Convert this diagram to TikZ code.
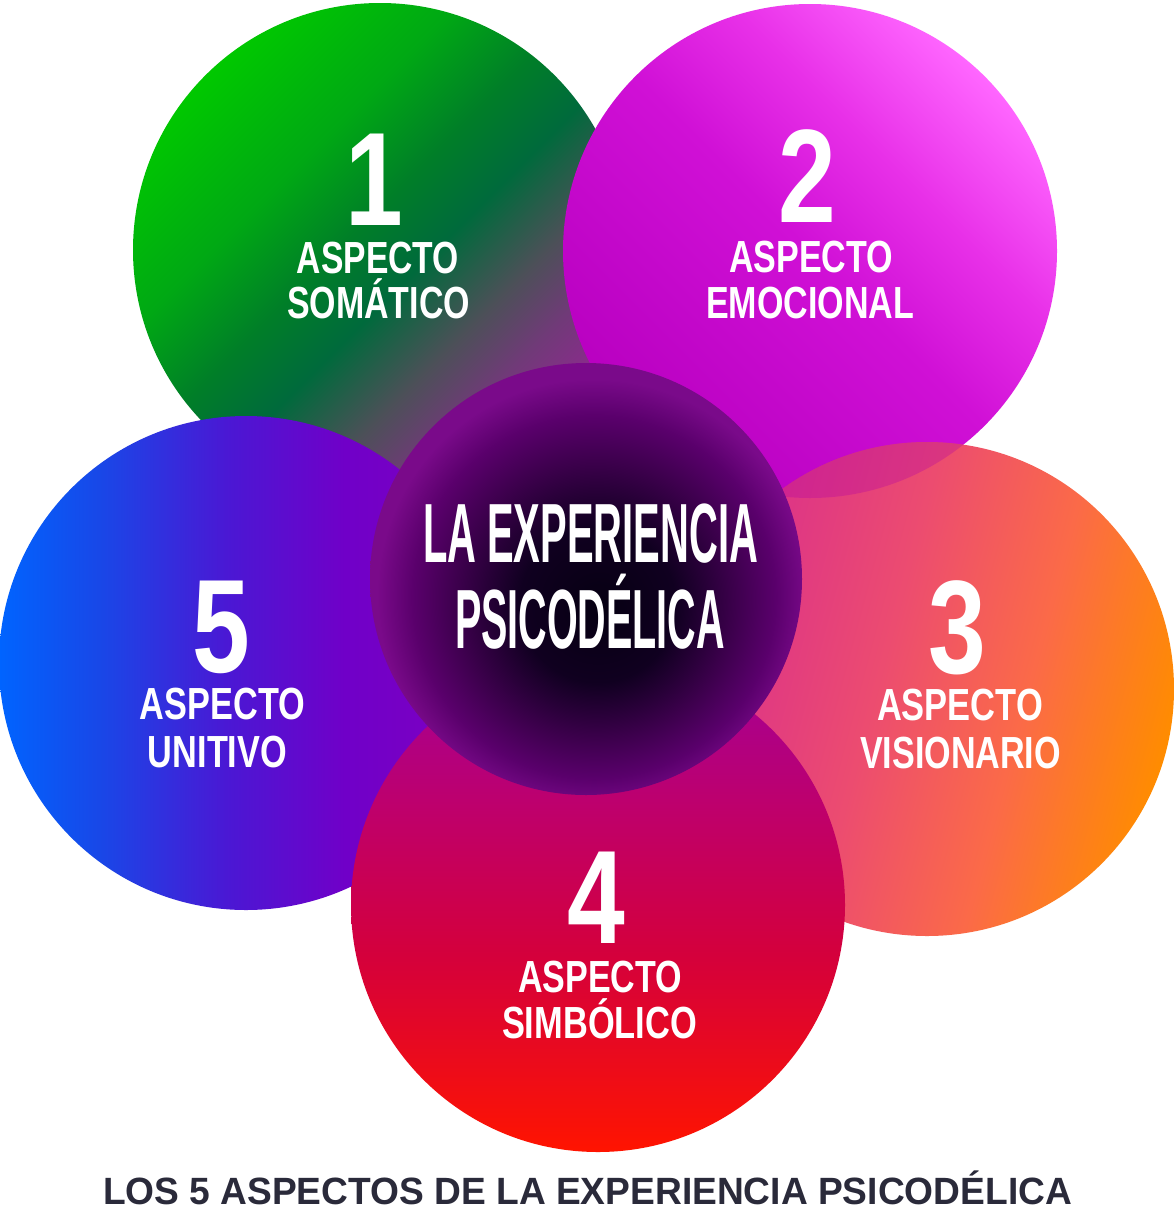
\documentclass[tikz,border=0pt]{standalone}
\usepackage{fontspec}
\setmainfont{Liberation Sans}
\usepackage{graphicx}
\definecolor{g0}{HTML}{00C800}
\definecolor{g1}{HTML}{00A814}
\definecolor{g2}{HTML}{007E28}
\definecolor{g3}{HTML}{006A3C}
\definecolor{g4}{HTML}{4C5058}
\definecolor{g5}{HTML}{703A78}
\definecolor{g6}{HTML}{902890}
\definecolor{m0}{HTML}{B800C0}
\definecolor{m1}{HTML}{D010D6}
\definecolor{m2}{HTML}{E830E8}
\definecolor{m3}{HTML}{FF66FF}
\definecolor{o0}{HTML}{D82C8E}
\definecolor{o1}{HTML}{EC4C70}
\definecolor{o2}{HTML}{FB6A48}
\definecolor{o3}{HTML}{FF8C00}
\definecolor{r0}{HTML}{A0009A}
\definecolor{r1}{HTML}{BE006C}
\definecolor{r2}{HTML}{D4003C}
\definecolor{r3}{HTML}{FF1400}
\definecolor{b0}{HTML}{0064FF}
\definecolor{b1}{HTML}{1848E8}
\definecolor{b2}{HTML}{4A18D4}
\definecolor{b3}{HTML}{7000C8}
\definecolor{b4}{HTML}{8000C0}
\definecolor{k0}{HTML}{060012}
\definecolor{k1}{HTML}{100020}
\definecolor{k2}{HTML}{3C004C}
\definecolor{k3}{HTML}{5A006C}
\definecolor{k4}{HTML}{7A0A8A}
\definecolor{capcol}{HTML}{2A2A3A}
\definecolor{magov}{HTML}{B000A8}
\pgfdeclarehorizontalshading{greensh}{100bp}{color(0bp)=(g0); color(25bp)=(g0); color(38bp)=(g1); color(47bp)=(g2); color(54bp)=(g3); color(62bp)=(g4); color(68bp)=(g5); color(75bp)=(g6); color(100bp)=(g6)}
\pgfdeclarehorizontalshading{magsh}{100bp}{color(0bp)=(m0); color(25bp)=(m0); color(50bp)=(m1); color(62bp)=(m2); color(75bp)=(m3); color(100bp)=(m3)}
\pgfdeclarehorizontalshading{orsh}{100bp}{color(0bp)=(o0); color(25bp)=(o0); color(45bp)=(o1); color(60bp)=(o2); color(75bp)=(o3); color(100bp)=(o3)}
\pgfdeclarehorizontalshading{redsh}{100bp}{color(0bp)=(r0); color(25bp)=(r0); color(40bp)=(r1); color(55bp)=(r2); color(75bp)=(r3); color(100bp)=(r3)}
\pgfdeclarehorizontalshading{bluesh}{100bp}{color(0bp)=(b0); color(25bp)=(b0); color(35bp)=(b1); color(48bp)=(b2); color(60bp)=(b3); color(75bp)=(b4); color(100bp)=(b4)}
\pgfdeclareradialshading{censh}{\pgfpoint{1.6bp}{-3.6bp}}{color(0bp)=(k0); color(9bp)=(k1); color(16bp)=(k2); color(21bp)=(k3); color(25bp)=(k4); color(50bp)=(k4)}
\newcommand{\dgfont}{\bfseries\fontsize{133}{133}\selectfont}
\newcommand{\wdfont}{\bfseries\fontsize{45}{45}\selectfont}
\newcommand{\ctfont}{\bfseries\fontsize{84}{84}\selectfont}
\newcommand{\cpfont}{\bfseries\fontsize{38}{38}\selectfont}
\newcommand{\fitw}[2]{\resizebox{#1pt}{\height}{#2}}
\newcommand{\dg}[1]{\scalebox{0.78}[1]{#1}}
\begin{document}
\begin{tikzpicture}[x=1pt,y=-1pt,
  disc/.style={circle, minimum size=494pt, inner sep=0pt, draw=none, shade},
  lbl/.style={text=white, inner sep=0pt, anchor=base}]
\useasboundingbox (0,0) rectangle (1175,1218);
\fill[white] (0,0) rectangle (1175,1218);
\node[disc, shading=greensh, shading angle=-45] (c1) at (380,250) {};
\node[disc, shading=magsh, shading angle=45] (c2) at (810,251) {};
\node[disc, shading=orsh, shading angle=-15] (c3) at (927,689) {};
\begin{scope}
  \clip (c3.center) circle[radius=247];
  \fill[magov, opacity=0.3] (c2.center) circle[radius=247];
\end{scope}
\node[disc, shading=bluesh, shading angle=0] (c5) at (246,663) {};
\node[disc, shading=redsh, shading angle=-90] (c4) at (598,905) {};
\node[circle, minimum size=432pt, inner sep=0pt, draw=none, shade, shading=censh] (cc) at (586,579) {};
% circle 1
\node[lbl, font=\dgfont] (n1) at (374,225) {\dg{1}};
\node[lbl, font=\wdfont] (a1) at (378,273) {\fitw{162}{ASPECTO}};
\node[lbl, font=\wdfont] (b1) at (378.5,318) {\fitw{183}{SOMÁTICO}};
% circle 2
\node[lbl, font=\dgfont] (n2) at (807.5,222) {\dg{2}};
\node[lbl, font=\wdfont] (a2) at (811,272) {\fitw{164}{ASPECTO}};
\node[lbl, font=\wdfont] (b2) at (810,318) {\fitw{208}{EMOCIONAL}};
% circle 3
\node[lbl, font=\dgfont] (n3) at (957.5,673) {\dg{3}};
\node[lbl, font=\wdfont] (a3) at (960,720) {\fitw{166}{ASPECTO}};
\node[lbl, font=\wdfont] (b3) at (960.5,768) {\fitw{201}{VISIONARIO}};
% circle 4
\node[lbl, font=\dgfont] (n4) at (596,943) {\dg{4}};
\node[lbl, font=\wdfont] (a4) at (600,992) {\fitw{164}{ASPECTO}};
\node[lbl, font=\wdfont] (b4) at (599.5,1038) {\fitw{195}{SIMBÓLICO}};
% circle 5
\node[lbl, font=\dgfont] (n5) at (221,672) {\dg{5}};
\node[lbl, font=\wdfont] (a5) at (222.5,719) {\fitw{165}{ASPECTO}};
\node[lbl, font=\wdfont] (b5) at (217.5,767) {\fitw{139}{UNITIVO}};
% centre
\node[lbl, font=\ctfont] (t1) at (590.5,562) {\fitw{335}{LA EXPERIENCIA}};
\node[lbl, font=\ctfont] (t2) at (590,648) {\fitw{270}{PSICODÉLICA}};
% caption
\node[anchor=base, inner sep=0pt, text=capcol, font=\cpfont] (cap) at (587.5,1204) {\fitw{969}{LOS 5 ASPECTOS DE LA EXPERIENCIA PSICODÉLICA}};
\end{tikzpicture}
\end{document}
